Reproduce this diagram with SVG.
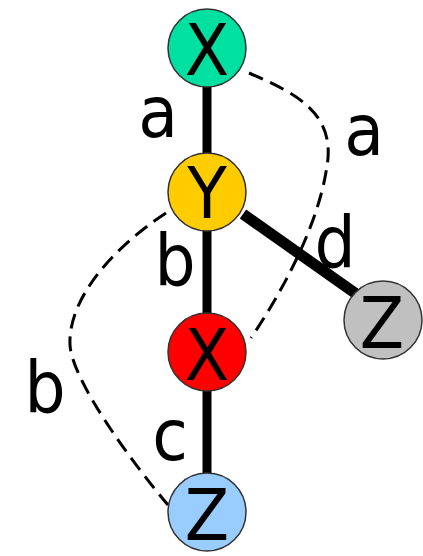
<svg xmlns="http://www.w3.org/2000/svg" width="423" height="556" viewBox="0 0 423 556">
<style>
.node{stroke:#333;stroke-width:1.5}
.t{font-family:"DejaVu Sans Condensed","DejaVu Sans",sans-serif;font-stretch:condensed;font-size:72px;fill:#000;text-anchor:middle}
.e{stroke:#000;stroke-width:9;fill:none}
.d{stroke:#000;stroke-width:3;fill:none;stroke-dasharray:15 8}
</style>
<rect width="423" height="556" fill="#fff"/>
<g id="connectors">
<line class="e" x1="207" y1="85" x2="207" y2="155"/>
<line class="e" x1="207" y1="229" x2="207" y2="315"/>
<line class="e" x1="207" y1="389" x2="207" y2="475"/>
<line class="e" x1="243" y1="214" x2="362" y2="298" style="stroke-width:11"/>
<path class="d" d="M249 73 C300 95 338 115 326 172 C318 220 290 280 251 338"/>
<path class="d" d="M166 213 C110 250 68 300 70 345 C72 380 130 460 168 505"/>
<text class="t" x="158" y="137">a</text>
<text class="t" x="364" y="155">a</text>
<text class="t" x="175" y="285">b</text>
<text class="t" x="335" y="267">d</text>
<text class="t" x="45" y="412">b</text>
<text class="t" x="170" y="460">c</text>
</g>
<g id="n1"><circle class="node" cx="207" cy="48" r="39" fill="#00E0A0"/><text class="t" x="207" y="75">X</text></g>
<g id="n2"><circle class="node" cx="207" cy="192" r="39" fill="#FFCC00"/><text class="t" x="207" y="218">Y</text></g>
<g id="n3"><circle class="node" cx="207" cy="352" r="39" fill="#FF0000"/><text class="t" x="207" y="380">X</text></g>
<g id="n4"><circle class="node" cx="207" cy="512" r="39" fill="#99CCFF"/><text class="t" x="207" y="540">Z</text></g>
<g id="n5"><circle class="node" cx="383" cy="320" r="39" fill="#C0C0C0"/><text class="t" x="382" y="348">Z</text></g>
</svg>
